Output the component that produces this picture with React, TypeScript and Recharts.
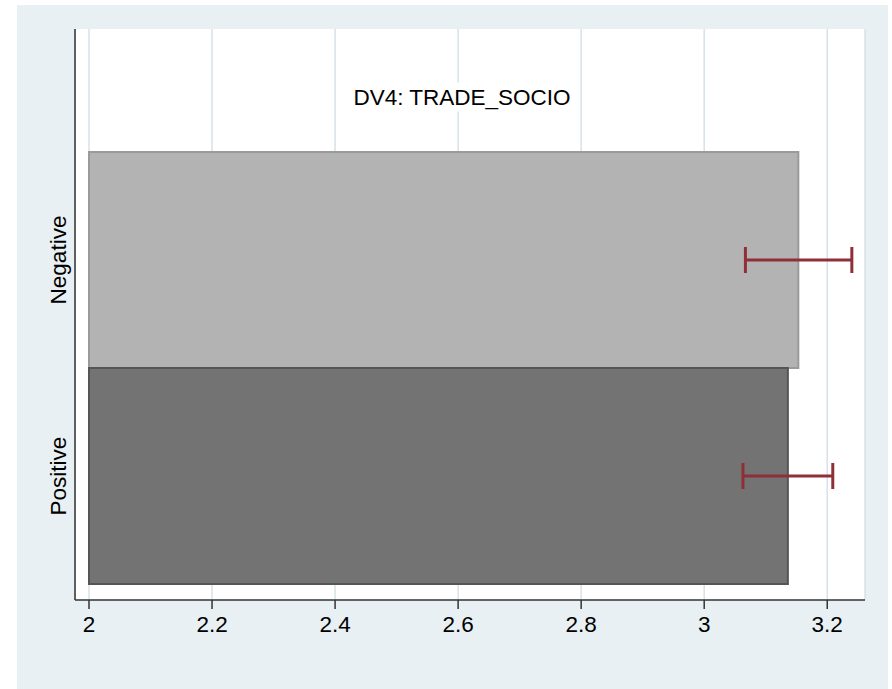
import React from "react";
import {
  BarChart,
  Bar,
  XAxis,
  YAxis,
  CartesianGrid,
  ErrorBar,
  Cell,
} from "recharts";

// Mean rating per framing condition, with 95% CI bounds
const groups = ["Negative", "Positive"];
const means = [3.153, 3.136];
const ciLow = [3.067, 3.063];
const ciHigh = [3.24, 3.209];
const xTicks = [2, 2.2, 2.4, 2.6, 2.8, 3, 3.2];

const barFills = ["#b3b3b3", "#737373"];
const barStrokes = ["#9a9a9a", "#555555"];

const FONT = "'Liberation Sans', Arial, Helvetica, sans-serif";
const FONT_SIZE = 22.5;

const data = groups.map((name, i) => ({
  name,
  mean: means[i],
  err: [means[i] - ciLow[i], ciHigh[i] - means[i]],
}));

function GroupTick(props: any) {
  const { x, y, payload } = props;
  const tx = x - 17;
  return (
    <text
      x={tx}
      y={y}
      transform={`rotate(-90, ${tx}, ${y})`}
      textAnchor="middle"
      dominantBaseline="central"
      fontSize={FONT_SIZE}
      fontFamily={FONT}
      fill="#000"
    >
      {payload.value}
    </text>
  );
}

export default function App() {
  return (
    <div
      style={{
        position: "absolute",
        left: 0,
        top: 0,
        width: 892,
        height: 689,
        background: "#fff",
        fontFamily: FONT,
      }}
    >
      <div
        style={{
          position: "absolute",
          left: 17,
          top: 5,
          width: 871,
          height: 684,
          background: "#e8f0f3",
        }}
      />
      <div style={{ position: "absolute", left: 0, top: 0 }}>
        <BarChart
          width={892}
          height={689}
          data={data}
          layout="vertical"
          margin={{ top: 29, right: 27, bottom: 49, left: 15 }}
          barCategoryGap={0}
        >
          <CartesianGrid
            horizontal={false}
            stroke="#d5e2e9"
            strokeWidth={1.5}
            fill="#ffffff"
            fillOpacity={1}
          />
          <XAxis
            type="number"
            domain={[2, 3.25]}
            ticks={xTicks}
            padding={{ left: 14, right: 7 }}
            height={40}
            tickSize={9}
            tickMargin={7}
            axisLine={{ stroke: "#333", strokeWidth: 1.5 }}
            tickLine={{ stroke: "#333", strokeWidth: 1.5 }}
            tick={{ fill: "#000", fontSize: FONT_SIZE, fontFamily: FONT }}
          />
          <YAxis
            type="category"
            dataKey="name"
            width={60}
            padding={{ top: 123, bottom: 16 }}
            tickLine={false}
            tickSize={0}
            tickMargin={0}
            axisLine={{ stroke: "#333", strokeWidth: 1.5 }}
            tick={<GroupTick />}
          />
          <Bar dataKey="mean" strokeWidth={2} isAnimationActive={false}>
            {data.map((d, i) => (
              <Cell key={d.name} fill={barFills[i]} stroke={barStrokes[i]} />
            ))}
            <ErrorBar
              dataKey="err"
              direction="x"
              width={13}
              stroke="#8f2f37"
              strokeWidth={3}
              isAnimationActive={false}
            />
          </Bar>
        </BarChart>
      </div>
      <div
        style={{
          position: "absolute",
          left: 462,
          top: 97,
          transform: "translate(-50%, -50%)",
          background: "#fff",
          padding: "3px 2px",
          fontSize: FONT_SIZE,
          color: "#000",
          whiteSpace: "nowrap",
          lineHeight: "23px",
        }}
      >
        DV4: TRADE_SOCIO
      </div>
    </div>
  );
}
